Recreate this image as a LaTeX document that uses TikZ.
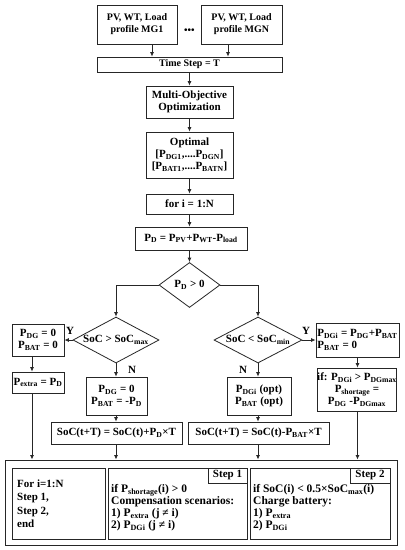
\documentclass[tikz,border=0pt]{standalone}
\usepackage{fontspec}
\setmainfont{Liberation Serif}
\usetikzlibrary{arrows.meta,shapes.geometric}
\newcommand{\sbs}[1]{\textsubscript{#1}}
\begin{document}
\begin{tikzpicture}[x=1pt,y=-1pt,
  every node/.style={font=\fontsize{11}{12}\selectfont\bfseries},
  box/.style={draw=black!85, line width=0.8pt, fill=white, align=center, inner sep=0pt},
  dia/.style={draw=black!85, line width=0.8pt, diamond, aspect=1.9, inner sep=0pt, align=center},
  arr/.style={draw=black!85, line width=0.8pt, -{Latex[length=4.5pt,width=4pt]}},
  ln/.style={draw=black!85, line width=0.8pt},
  lbl/.style={font=\fontsize{11}{12}\selectfont\bfseries, inner sep=0pt},
  small/.style={font=\fontsize{10}{12}\selectfont\bfseries},
  txt/.style={inner sep=0pt, anchor=west, align=left}]
\useasboundingbox[fill=white] (0,0) rectangle (405,550);

% top
\node[box, small, minimum width=80pt, minimum height=39pt] (mg1) at (137,24.5) {PV, WT, Load\\profile MG1};
\node[box, small, minimum width=81pt, minimum height=39pt] (mgn) at (241.5,24.5) {PV, WT, Load\\profile MGN};
\node[small, inner sep=0pt] (dots) at (189.5,31) {\textbullet\textbullet\textbullet};
\node[box, small, minimum width=185pt, minimum height=15pt] (ts) at (189.5,64.5) {Time Step = T};
\node[box, minimum width=87pt, minimum height=32pt] (mo) at (189.5,102) {Multi-Objective\\Optimization};
\node[box, minimum width=87pt, minimum height=46pt] (opt) at (189.5,155) {Optimal\\{[}P\sbs{DG1},....P\sbs{DGN}{]}\\{[}P\sbs{BAT1},....P\sbs{BATN}{]}};
\node[box, minimum width=87pt, minimum height=20pt] (fori) at (189.5,204) {for i = 1:N};
\node[box, minimum width=112pt, minimum height=23pt] (pd) at (191,238.5) {P\sbs{D} = P\sbs{PV}+P\sbs{WT}-P\sbs{load}};

% decisions
\node[dia, minimum width=61pt, minimum height=45pt] (d0) at (189.5,285) {P\sbs{D} > 0};
\node[dia, minimum width=86pt, minimum height=46pt] (dl) at (116,340) {SoC > SoC\sbs{max}};
\node[dia, minimum width=88pt, minimum height=46pt] (dr) at (258,340) {SoC < SoC\sbs{min}};

% left branch
\node[box, minimum width=52pt, minimum height=32pt] (bl1) at (38,340) {P\sbs{DG} = 0\\P\sbs{BAT} = 0};
\node[box, minimum width=52pt, minimum height=21pt] (bl2) at (38,382.5) {P\sbs{extra} = P\sbs{D}};
\node[box, minimum width=61pt, minimum height=38pt] (bm1) at (116.5,396) {P\sbs{DG} = 0\\P\sbs{BAT} = -P\sbs{D}};
\node[box, minimum width=131pt, minimum height=22pt] (sl) at (116.5,433) {SoC(t+T) = SoC(t)+P\sbs{D}×T};

% right branch
\node[box, minimum width=64pt, minimum height=38pt] (bm2) at (259,396) {P\sbs{DGi} (opt)\\P\sbs{BAT} (opt)};
\node[box, minimum width=141pt, minimum height=22pt] (sr) at (258.5,433) {SoC(t+T) = SoC(t)-P\sbs{BAT}×T};
\node[box, align=left, minimum width=83pt, minimum height=34pt] (br1) at (357.5,340) {P\sbs{DGi} = P\sbs{DG}+P\sbs{BAT}\\P\sbs{BAT} = 0};
\node[box, minimum width=79pt, minimum height=43pt] (br2) at (357,389.5) {if: P\sbs{DGi} > P\sbs{DGmax}\\P\sbs{shortage} =\\P\sbs{DG} -P\sbs{DGmax}};

% bottom
\node[box, line width=1pt, minimum width=392pt, minimum height=85pt] (big) at (201,502.5) {};
\node[box, minimum width=93pt, minimum height=71pt] (in1) at (58.5,503.5) {};
\node[box, minimum width=139pt, minimum height=71pt] (in2) at (177.5,503.5) {};
\node[box, minimum width=140pt, minimum height=71pt] (in3) at (320,503.5) {};
\node[box, minimum width=39pt, minimum height=15pt] (s1) at (227.5,475.5) {Step 1};
\node[box, minimum width=40pt, minimum height=15pt] (s2) at (370,475.5) {Step 2};
\node[txt, font=\fontsize{11}{13.5}\selectfont\bfseries] (t1) at (17,503.5) {For i=1:N\\Step 1,\\Step 2,\\end};
\node[txt, font=\fontsize{11.5}{12}\selectfont\bfseries] (t2) at (111,508) {if P\sbs{shortage}(i) > 0\\Compensation scenarios:\\1) P\sbs{extra} (j ≠ i)\\2) P\sbs{DGi} (j ≠ i)};
\node[txt, font=\fontsize{11.5}{12}\selectfont\bfseries] (t3) at (253,508) {if SoC(i) < 0.5×SoC\sbs{max}(i)\\Charge battery:\\1) P\sbs{extra}\\2) P\sbs{DGi}};

% labels
\node[lbl] (y1) at (70,331) {Y};
\node[lbl] (y2) at (306,331) {Y};
\node[lbl] (n1) at (132,370) {N};
\node[lbl] (n2) at (243,370) {N};

% connectors
\coordinate (a1) at ([xshift=15pt]mg1.south);
\coordinate (a2) at ([xshift=-13.5pt]mgn.south);
\draw[arr] (a1) -- (a1 |- ts.north);
\draw[arr] (a2) -- (a2 |- ts.north);
\draw[arr] (ts.south) -- (mo.north);
\draw[arr] (mo.south) -- (opt.north);
\draw[arr] (opt.south) -- (fori.north);
\draw[arr] (fori.south) -- (fori.south |- pd.north);
\draw[arr] (fori.south |- pd.south) -- (d0.north);
\draw[arr] (d0.west) -| (dl.north);
\draw[arr] (d0.east) -| (dr.north);
\draw[arr] (dl.west) -- (dl.west -| bl1.east);
\coordinate (b1) at ([xshift=-6pt]bl1.south);
\draw[arr] (b1) -- (b1 |- bl2.north);
\coordinate (b2) at ([xshift=-6pt]bl2.south);
\draw[arr] (b2) -- (b2 |- big.north);
\draw[arr] (dl.south) -- (dl.south |- bm1.north);
\draw[arr] (dl.south |- bm1.south) -- (dl.south |- sl.north);
\draw[arr] (dl.south |- sl.south) -- (dl.south |- big.north);
\draw[arr] (dr.east) -- (dr.east -| br1.west);
\draw[arr] (dr.south) -- (dr.south |- bm2.north);
\draw[arr] (dr.south |- bm2.south) -- (dr.south |- sr.north);
\draw[arr] (dr.south |- sr.south) -- (dr.south |- big.north);
\draw[arr] (br1.south) -- (br1.south |- br2.north);
\draw[arr] (br1.south |- br2.south) -- (br1.south |- big.north);
\end{tikzpicture}
\end{document}
